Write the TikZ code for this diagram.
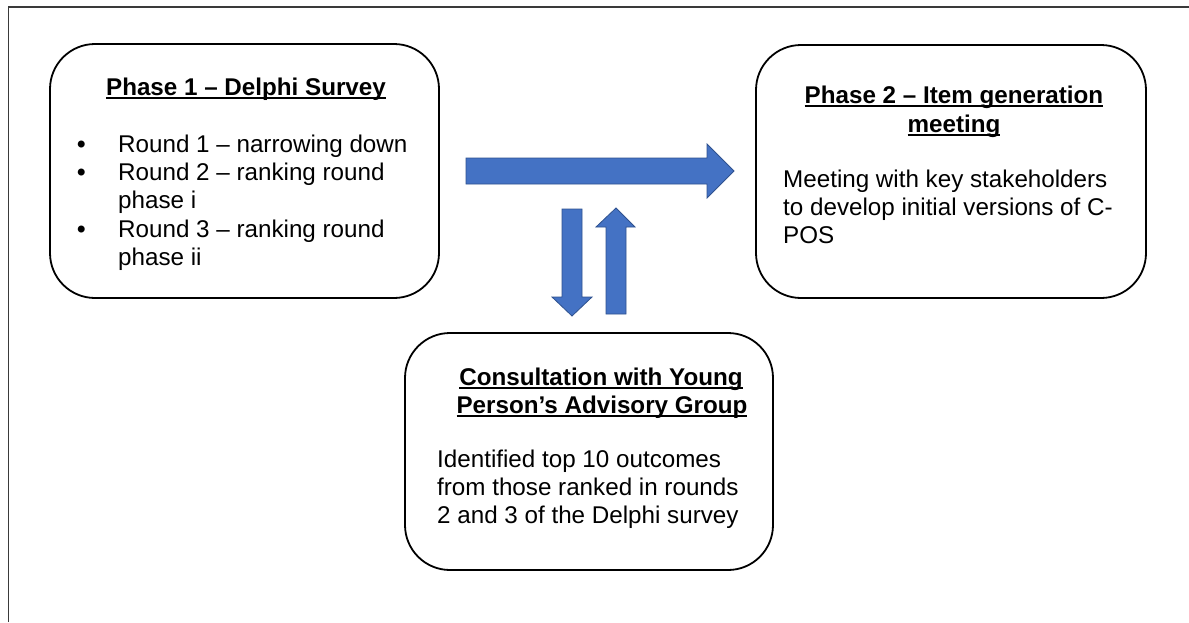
\documentclass[tikz,border=0pt]{standalone}
\usepackage{fontspec}
\setmainfont{Liberation Sans}
\definecolor{arrowfill}{HTML}{4472C4}
\definecolor{arrowline}{HTML}{2F528F}
\definecolor{framegray}{HTML}{3A3A3A}
\newcommand\myul[1]{\setbox0\hbox{#1}\rlap{\rule[-3.5pt]{\wd0}{1.6pt}}\box0}
\tikzset{
  box/.style={draw=black, line width=1.8pt, rounded corners=45pt, inner sep=0pt},
  title/.style={font=\fontsize{24.2}{29}\selectfont\bfseries, align=center, inner sep=0pt},
  body/.style={font=\fontsize{24.2}{29}\selectfont, align=left, inner sep=0pt, anchor=base west},
  blockarrow/.style={fill=arrowfill, draw=arrowline, line width=0.8pt, line join=miter}
}
\begin{document}
\begin{tikzpicture}[x=1pt,y=-1pt]
\useasboundingbox (0,0) rectangle (1189,622);
\fill[white] (0,0) rectangle (1189,622);
\draw[framegray, line width=1.5pt] (8.5,622) -- (8.5,7) -- (1189,7);
% boxes
\node[box, minimum width=389pt, minimum height=254pt] (p1) at (244.5,171) {};
\node[box, minimum width=390pt, minimum height=253pt] (p2) at (951,171.5) {};
\node[box, minimum width=368pt, minimum height=237pt] (yp) at (589,451.5) {};
% box 1 text
\node[title, anchor=base] (t1) at (246,95) {\myul{Phase 1 – Delphi Survey}};
\node[body] (b1a) at (77,152) {\textbf{•}};
\node[body] (r1) at (118,152) {Round 1 – narrowing down};
\node[body] (b1b) at (77,180) {\textbf{•}};
\node[body] (r2) at (118,180) {Round 2 – ranking round};
\node[body] (r2b) at (118,208) {phase i};
\node[body] (b1c) at (77,237) {\textbf{•}};
\node[body] (r3) at (118,237) {Round 3 – ranking round};
\node[body] (r3b) at (118,265) {phase ii};
% box 2 text
\node[title, anchor=base] (t2a) at (954,103) {\myul{Phase 2 – Item generation}};
\node[title, anchor=base] (t2b) at (954,132) {\myul{meeting}};
\node[body] (m1) at (783,187) {Meeting with key stakeholders};
\node[body] (m2) at (783,215) {to develop initial versions of C-};
\node[body] (m3) at (783,243) {POS};
% box 3 text
\node[title, anchor=base] (t3a) at (601,385) {\myul{Consultation with Young}};
\node[title, anchor=base] (t3b) at (602,413) {\myul{Person’s Advisory Group}};
\node[body] (c1) at (437,467) {Identified top 10 outcomes};
\node[body] (c2) at (437,495) {from those ranked in rounds};
\node[body] (c3) at (437,523) {2 and 3 of the Delphi survey};
% arrows
\draw[blockarrow] (466,158) -- (707,158) -- (707,144) -- (734,171) -- (707,198) -- (707,184) -- (466,184) -- cycle;
\draw[blockarrow] (562,209) -- (582,209) -- (582,297) -- (592,297) -- (572,316) -- (552,297) -- (562,297) -- cycle;
\draw[blockarrow] (606,314) -- (626,314) -- (626,227) -- (635,227) -- (616,208) -- (596,227) -- (606,227) -- cycle;
\end{tikzpicture}
\end{document}
